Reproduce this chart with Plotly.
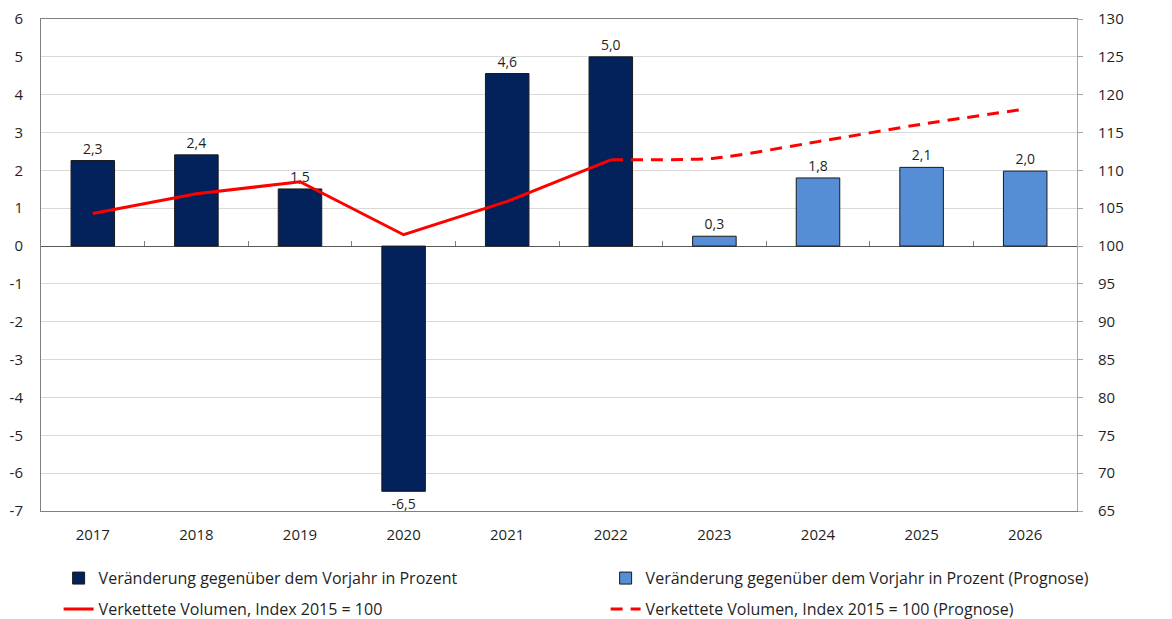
import plotly.graph_objects as go

years = ["2017", "2018", "2019", "2020", "2021", "2022", "2023", "2024", "2025", "2026"]
hist_years = years[:6]
prog_years = years[6:]
change_hist = [2.26, 2.41, 1.51, -6.48, 4.56, 5.0]
change_prog = [0.26, 1.8, 2.08, 1.98]
index_hist = [104.3, 106.9, 108.5, 101.5, 105.9, 111.4]
index_prog_years = years[5:]
index_prog = [111.4, 111.6, 113.8, 116.1, 118.1]
left_ticks = list(range(-7, 7))
right_ticks = list(range(65, 131, 5))

name_bar = "Veränderung gegenüber dem Vorjahr in Prozent"
name_bar_p = "Veränderung gegenüber dem Vorjahr in Prozent (Prognose)"
name_line = "Verkettete Volumen, Index 2015 = 100"
name_line_p = "Verkettete Volumen, Index 2015 = 100 (Prognose)"

FONT = "Open Sans"
TXT = "#1f1f1f"


def fmt(v):
    return f"{v:.1f}".replace(".", ",")


fig = go.Figure()
fig.add_trace(go.Bar(
    x=hist_years, y=change_hist, name=name_bar, legend="legend", legendgroup="a",
    marker=dict(color="#03215B", line=dict(color="#1a1a1a", width=1)),
    width=0.42, text=[fmt(v) for v in change_hist], textposition="outside",
    textfont=dict(family=FONT, size=14, color=TXT), cliponaxis=False,
))
fig.add_trace(go.Bar(
    x=prog_years, y=change_prog, name=name_bar_p, legend="legend2", legendgroup="b",
    marker=dict(color="#558ED5", line=dict(color="#1a1a1a", width=1)),
    width=0.42, text=[fmt(v) for v in change_prog], textposition="outside",
    textfont=dict(family=FONT, size=14, color=TXT), cliponaxis=False,
))
fig.add_trace(go.Scatter(
    x=hist_years, y=index_hist, name=name_line, mode="lines", legend="legend", legendgroup="c",
    line=dict(color="#FF0000", width=3), yaxis="y2",
))
fig.add_trace(go.Scatter(
    x=index_prog_years, y=index_prog, name=name_line_p, mode="lines", legend="legend2", legendgroup="d",
    line=dict(color="#FF0000", width=3, dash="12px,8px", shape="spline", smoothing=0.6),
    yaxis="y2",
))
fig.add_trace(go.Scatter(x=[], y=[], xaxis="x2", showlegend=False, hoverinfo="skip"))

leg_common = dict(
    orientation="v", xanchor="left", y=-0.102, yanchor="top",
    font=dict(family=FONT, size=16, color=TXT), itemwidth=30,
    tracegroupgap=7, bgcolor="rgba(0,0,0,0)",
)

fig.update_layout(
    width=1164, height=611,
    margin=dict(l=33, r=95, t=11, b=108, autoexpand=False),
    plot_bgcolor="white", paper_bgcolor="white",
    barmode="overlay",
    font=dict(family=FONT, size=15, color=TXT),
    showlegend=True,
    legend=dict(x=0.017, **leg_common),
    legend2=dict(x=0.545, **leg_common),
    xaxis=dict(
        type="category", categoryarray=years, range=[-0.5, 9.5],
        showline=True, linecolor="#7f7f7f", linewidth=1, mirror=True,
        ticks="", tickfont=dict(family=FONT, size=15, color=TXT),
        ticklabelstandoff=10, showgrid=False,
    ),
    xaxis2=dict(
        overlaying="x", anchor="free", position=7 / 13, range=[-0.5, 9.5],
        tickmode="array", tickvals=[i + 0.5 for i in range(len(years) - 1)],
        ticks="inside", ticklen=5, tickcolor="#7f7f7f", showticklabels=False,
        showline=False, showgrid=False, zeroline=False,
    ),
    yaxis=dict(
        range=[-7, 6], tickmode="array", tickvals=left_ticks,
        ticktext=[str(t) for t in left_ticks],
        showgrid=True, gridcolor="#D9D9D9", gridwidth=1,
        zeroline=True, zerolinecolor="#595959", zerolinewidth=1,
        showline=True, linecolor="#7f7f7f", linewidth=1,
        ticks="", tickfont=dict(family=FONT, size=15, color=TXT),
        ticklabelstandoff=14, ticklabeloverflow="allow",
    ),
    yaxis2=dict(
        overlaying="y", side="right", range=[65, 130], tickmode="array",
        tickvals=right_ticks, ticktext=[str(t) for t in right_ticks],
        showgrid=False, zeroline=False,
        showline=True, linecolor="#a6a6a6", linewidth=1,
        ticks="outside", ticklen=5, tickcolor="#a6a6a6",
        tickfont=dict(family=FONT, size=15, color=TXT),
        ticklabelstandoff=12, ticklabeloverflow="allow",
    ),
)

fig.write_html("out.html")
